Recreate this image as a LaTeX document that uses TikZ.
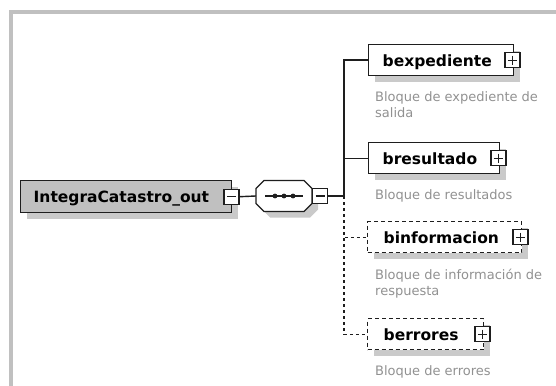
\documentclass[tikz,border=0pt]{standalone}
\usepackage{fontspec}
\setmainfont{DejaVu Sans}
\usetikzlibrary{calc,shadows}
\definecolor{framegray}{RGB}{192,192,192}
\definecolor{maingray}{RGB}{192,192,192}
\definecolor{shadowgray}{RGB}{202,202,202}
\definecolor{descgray}{RGB}{145,145,145}
\definecolor{ink}{RGB}{30,30,30}
\newcommand{\lblfont}{\fontsize{15.5}{18}\selectfont\bfseries}
\newcommand{\dscfont}{\fontsize{13}{16}\selectfont}
\begin{document}
\begin{tikzpicture}[x=1pt,y=-1pt,
  box/.style={rectangle, draw=ink, line width=1.4pt, fill=white, minimum height=31pt,
    inner sep=0pt, anchor=north west, text height=12pt, text depth=0pt, font=\lblfont,
    general shadow={fill=shadowgray, shadow xshift=6pt, shadow yshift=-6pt}},
  optbox/.style={box, dash pattern=on 4pt off 3pt},
  pm/.style={rectangle, draw=ink, line width=1.2pt, fill=white, minimum size=15pt, inner sep=0pt},
  desc/.style={anchor=north west, inner sep=0pt, align=left, font=\dscfont, text=descgray},
  conn/.style={draw=ink, line width=1.4pt},
  optconn/.style={conn, dash pattern=on 3pt off 3pt},
  sign/.style={draw=ink, line width=1.2pt}
]
\useasboundingbox (0,0) rectangle (556,385);
% frame
\draw[framegray, line width=4pt] (10.5,386) -- (10.5,12) -- (557,12);

% root element
\node[box, fill=maingray, minimum height=32pt] (main) at (20,180)
  {\makebox[211pt][l]{\hspace{13pt}IntegraCatastro\_out}};
\node[pm] (m0) at ($(main.east)+(-1,0)$) {};
\draw[sign] ($(m0.center)+(-4.5,0)$) -- ($(m0.center)+(4.5,0)$);

% sequence compositor
\begin{scope}[shift={(6,6)}]
  \fill[shadowgray] (264,180.5) -- (304,180.5) -- (312,188.5) -- (312,203.5) -- (304,211.5)
    -- (264,211.5) -- (256,203.5) -- (256,188.5) -- cycle;
\end{scope}
\draw[ink, line width=1.4pt, fill=white] (264,180.5) -- (304,180.5) -- (312,188.5) -- (312,203.5)
  -- (304,211.5) -- (264,211.5) -- (256,203.5) -- (256,188.5) -- cycle;
\node[minimum width=56pt, minimum height=31pt, inner sep=0pt] (seq) at (284,196) {};
\draw[conn] ($(seq.center)+(-19,0)$) -- ($(seq.center)+(19,0)$);
\fill[ink] ($(seq.center)+(-9,0)$) circle (2.4);
\fill[ink] (seq.center) circle (2.4);
\fill[ink] ($(seq.center)+(9,0)$) circle (2.4);
\node[pm] (m1) at ($(seq.east)+(8,0)$) {};
\draw[sign] ($(m1.center)+(-4.5,0)$) -- ($(m1.center)+(4.5,0)$);

\draw[conn] (m0.east) -- (seq.west);
\coordinate (j) at (344,196);
\draw[conn] (m1.east) -- (j);

% child elements
\node[box] (e1) at (368,44) {\makebox[145pt][l]{\hspace{14pt}bexpediente}};
\node[box] (e2) at (368,142) {\makebox[131pt][l]{\hspace{14pt}bresultado}};
\node[optbox] (e3) at (367,221) {\makebox[154pt][l]{\hspace{16pt}binformacion}};
\node[optbox] (e4) at (367,318) {\makebox[116pt][l]{\hspace{16pt}berrores}};

\foreach \e/\p in {e1/p1,e2/p2,e3/p3,e4/p4}{
  \node[pm] (\p) at ($(\e.east)+(-2,0)$) {};
  \draw[sign] ($(\p.center)+(-4.5,0)$) -- ($(\p.center)+(4.5,0)$);
  \draw[sign] ($(\p.center)+(0,-4.5)$) -- ($(\p.center)+(0,4.5)$);
}

% connectors
\draw[conn] (j) |- (e1.west);
\draw[conn] (j) |- (e2.west);
\draw[optconn] (j) |- (e3.west);
\draw[optconn] (j) |- (e4.west);

% descriptions
\node[desc] (d1) at ($(e1.south west)+(7,15.5)$) {Bloque de expediente de\\salida};
\node[desc] (d2) at ($(e2.south west)+(7,15.5)$) {Bloque de resultados};
\node[desc] (d3) at ($(e3.south west)+(8,15.5)$) {Bloque de información de\\respuesta};
\node[desc] (d4) at ($(e4.south west)+(8,15.5)$) {Bloque de errores};
\end{tikzpicture}
\end{document}
